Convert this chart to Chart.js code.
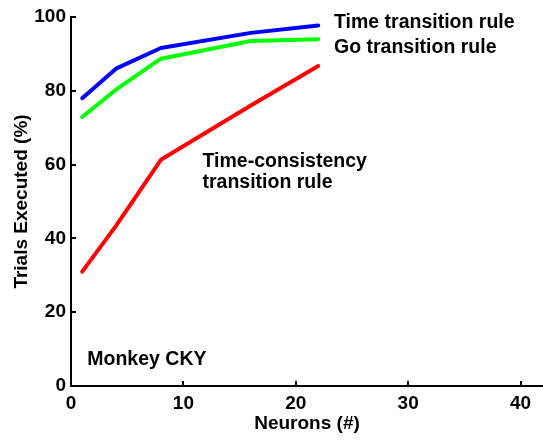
<!DOCTYPE html>
<html>
<head>
<meta charset="utf-8">
<title>Trials executed vs neurons</title>
<script src="https://cdn.jsdelivr.net/npm/chart.js@4/dist/chart.umd.min.js"></script>
<style>
  html, body { margin: 0; padding: 0; background: #fff; }
  canvas { display: block; }
</style>
</head>
<body>
<canvas id="chart" width="543" height="442"></canvas>
<script>
// neuron counts used for every curve
const neurons = [1, 4, 8, 16, 22];

// percent of trials executed, one array per transition rule
const timeRule = [78.0, 86.0, 91.6, 95.7, 97.7];
const goRule = [72.9, 80.3, 88.7, 93.5, 94.0];
const consistencyRule = [31.0, 43.4, 61.3, 76.0, 86.7];

const xTicks = [0, 10, 20, 30, 40];
const yTicks = [0, 20, 40, 60, 80, 100];

// text placed in data units (x, baseline y)
const notes = [
    { text: 'Time transition rule', x: 23.4, y: 97.0 },
    { text: 'Go transition rule', x: 23.4, y: 90.2 },
    { text: 'Time-consistency', x: 11.7, y: 59.4 },
    { text: 'transition rule', x: 11.7, y: 53.6 },
    { text: 'Monkey CKY', x: 1.45, y: 5.8 }
];

const FONT = "'Liberation Sans', Arial, Helvetica, sans-serif";

function toPoints(values) {
    return neurons.map((n, i) => ({ x: n, y: values[i] }));
}

// tick marks pointing into the plot, like the original figure
const innerTicks = {
    id: 'innerTicks',
    afterDraw(chart) {
        const { ctx, chartArea } = chart;
        const x = chart.scales.x, y = chart.scales.y;
        ctx.save();
        ctx.strokeStyle = '#000';
        ctx.lineWidth = 2;
        xTicks.forEach(v => {
            const px = Math.round(x.getPixelForValue(v));
            ctx.beginPath();
            ctx.moveTo(px, chartArea.bottom);
            ctx.lineTo(px, chartArea.bottom - 5);
            ctx.stroke();
        });
        yTicks.forEach(v => {
            const py = Math.round(y.getPixelForValue(v));
            ctx.beginPath();
            ctx.moveTo(chartArea.left, py);
            ctx.lineTo(chartArea.left + 5, py);
            ctx.stroke();
        });
        ctx.restore();
    }
};

const noteText = {
    id: 'noteText',
    afterDraw(chart) {
        const { ctx } = chart;
        const x = chart.scales.x, y = chart.scales.y;
        ctx.save();
        ctx.fillStyle = '#000';
        ctx.font = 'bold 19.5px ' + FONT;
        ctx.textAlign = 'left';
        ctx.textBaseline = 'alphabetic';
        notes.forEach(n => {
            ctx.fillText(n.text, x.getPixelForValue(n.x), y.getPixelForValue(n.y));
        });
        ctx.restore();
    }
};

function lineSet(label, values, color) {
    return {
        label: label,
        data: toPoints(values),
        borderColor: color,
        backgroundColor: color,
        borderWidth: 4,
        pointRadius: 0,
        borderCapStyle: 'round',
        borderJoinStyle: 'round',
        tension: 0,
        fill: false
    };
}

new Chart(document.getElementById('chart').getContext('2d'), {
    type: 'line',
    data: {
        datasets: [
            lineSet('Time transition rule', timeRule, 'rgb(0, 0, 255)'),
            lineSet('Go transition rule', goRule, 'rgb(0, 255, 0)'),
            lineSet('Time-consistency transition rule', consistencyRule, 'rgb(255, 0, 0)')
        ]
    },
    options: {
        responsive: false,
        animation: false,
        layout: { padding: { top: 17, right: 0, left: 0, bottom: 0 } },
        plugins: {
            legend: { display: false },
            tooltip: { enabled: false }
        },
        scales: {
            x: {
                type: 'linear',
                min: 0,
                max: 42,
                grid: { display: false, drawTicks: false },
                border: { display: true, color: '#000', width: 2 },
                afterBuildTicks: s => { s.ticks = xTicks.map(v => ({ value: v })); },
                afterFit: s => { s.height = 56; },
                ticks: {
                    color: '#000',
                    padding: 6,
                    maxRotation: 0,
                    font: { family: FONT, size: 19, weight: 'bold' }
                },
                title: {
                    display: true,
                    text: 'Neurons (#)',
                    color: '#000',
                    padding: { top: 7, bottom: 7 },
                    font: { family: FONT, size: 19, weight: 'bold' }
                }
            },
            y: {
                min: 0,
                max: 100,
                grid: { display: false, drawTicks: false },
                border: { display: true, color: '#000', width: 2 },
                afterBuildTicks: s => { s.ticks = yTicks.map(v => ({ value: v })); },
                afterFit: s => { s.width = 71; },
                ticks: {
                    color: '#000',
                    padding: 5,
                    font: { family: FONT, size: 19, weight: 'bold' }
                },
                title: {
                    display: true,
                    text: 'Trials Executed (%)',
                    color: '#000',
                    padding: { top: 10, bottom: 10 },
                    font: { family: FONT, size: 19, weight: 'bold' }
                }
            }
        }
    },
    plugins: [innerTicks, noteText]
});
</script>
</body>
</html>
